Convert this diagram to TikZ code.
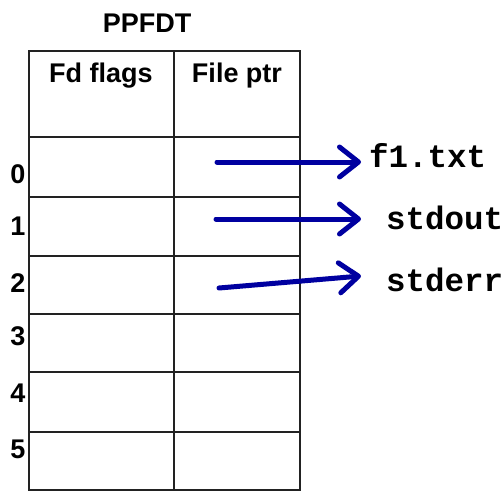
\documentclass[tikz,border=0pt]{standalone}
\usepackage{fontspec}
\setmainfont{Liberation Sans}
\newfontfamily\codefont{Liberation Mono}
\usetikzlibrary{arrows.meta}
\definecolor{ptrblue}{RGB}{0,0,160}
\definecolor{gridline}{RGB}{34,34,34}
\tikzset{
  grid/.style={draw=gridline, line width=2pt},
  label/.style={font=\fontsize{27}{27}\selectfont\bfseries, inner sep=0pt, anchor=base},
  file/.style={font=\fontsize{32.5}{32.5}\selectfont\codefont\bfseries, inner sep=0pt, anchor=base west},
  ptr/.style={draw=ptrblue, line width=5pt, line cap=round,
    -{Straight Barb[length=19pt, width=30pt, line cap=round, line join=round]}},
}
\begin{document}
\begin{tikzpicture}[x=1pt, y=-1pt]
\useasboundingbox (0,0) rectangle (504,491);

% title and column headings
\node[label] (title) at (147,32) {PPFDT};
\node[label] (hflags) at (101,82) {Fd flags};
\node[label] (hptr) at (237,82) {File ptr};

% table outline, column divider and row lines
\draw[grid] (29,51) rectangle (300,490);
\draw[grid] (174,51) -- (174,490);
\foreach \y in {137,197,256,314,372,432} {
  \draw[grid] (29,\y) -- (300,\y);
}

% descriptor numbers
\node[label] (n0) at (18,183) {0};
\node[label] (n1) at (18,235) {1};
\node[label] (n2) at (18,292) {2};
\node[label] (n3) at (18,345) {3};
\node[label] (n4) at (18,402) {4};
\node[label] (n5) at (18,458) {5};

% open files
\node[file] (f1) at (369,167) {f1.txt};
\node[file] (out) at (386,229) {stdout};
\node[file] (err) at (386,291) {stderr};

% pointers out of the file ptr column
\coordinate (p0) at (217,162);
\coordinate (p1) at (216,219);
\coordinate (p2) at (219,288);
\coordinate (t0) at (361,162);
\coordinate (t1) at (361,219);
\coordinate (t2) at (361,276);
\draw[ptr] (p0) -- (t0);
\draw[ptr] (p1) -- (t1);
\draw[ptr] (p2) -- (t2);
\end{tikzpicture}
\end{document}
